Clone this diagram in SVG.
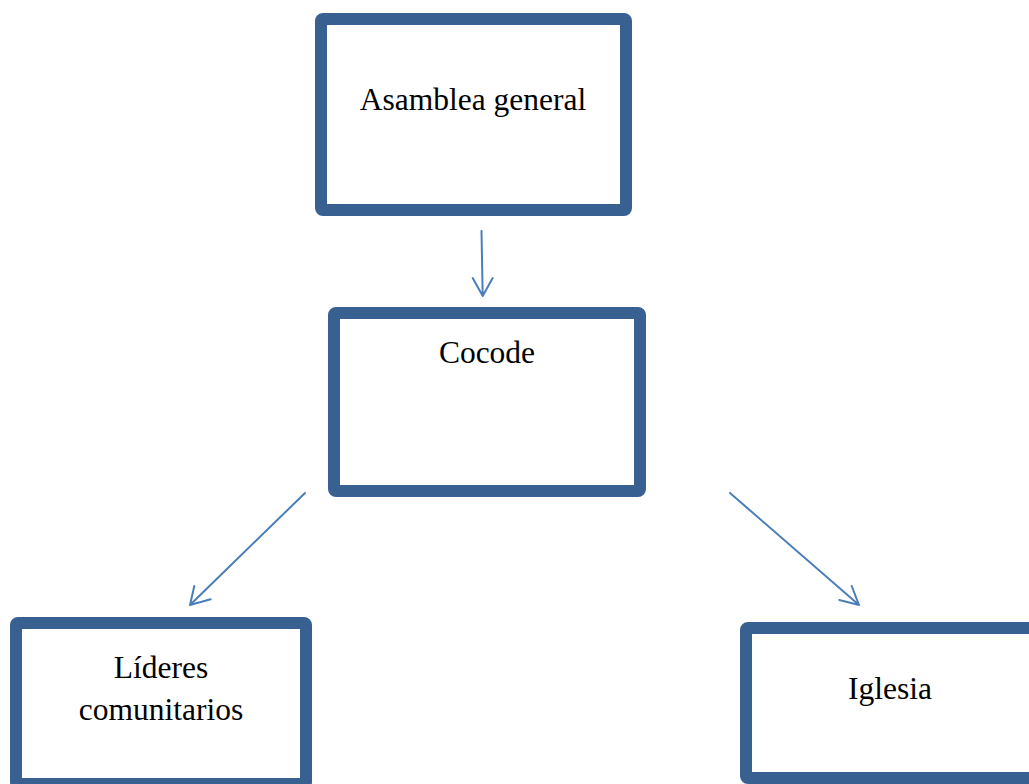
<svg xmlns="http://www.w3.org/2000/svg" width="1029" height="784" viewBox="0 0 1029 784">
<style>
.box{fill:#fff;stroke:#386191;stroke-width:12;stroke-linejoin:round}
.lbl{font-family:"Liberation Serif","Times New Roman",serif;font-size:31.5px;fill:#000;text-anchor:middle}
.con{stroke:#4a7ebb;stroke-width:2;fill:none;stroke-linecap:round;stroke-linejoin:round}
</style>
<rect width="1029" height="784" fill="#fff"/>
<g id="asamblea">
<rect class="box" x="321" y="19" width="305" height="191" rx="2"/>
<text class="lbl" x="473" y="110">Asamblea general</text>
</g>
<g id="cocode">
<rect class="box" x="334" y="313" width="306" height="178" rx="2"/>
<text class="lbl" x="487" y="363">Cocode</text>
</g>
<g id="lideres">
<rect class="box" x="16" y="623" width="290" height="161" rx="2"/>
<text class="lbl" x="161" y="678">Líderes</text>
<text class="lbl" x="161" y="720">comunitarios</text>
</g>
<g id="iglesia">
<rect class="box" x="746" y="628" width="300" height="150" rx="2"/>
<text class="lbl" x="890" y="699">Iglesia</text>
</g>
<g id="connectors">
<path class="con" d="M481.5 231 L482.7 296 M472.7 278 L482.7 296 L492.7 278"/>
<path class="con" d="M305 493 L190 605 M194.3 586 L190 605 L210.7 599.3"/>
<path class="con" d="M730 493 L859 605 M851.7 586 L859 605 L839.3 600"/>
</g>
</svg>
